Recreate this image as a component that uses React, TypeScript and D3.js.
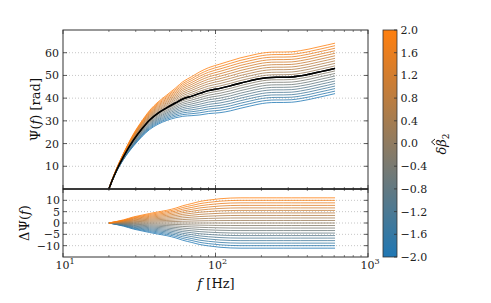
import React from "react";
import * as d3 from "d3";

// ---- data ----
const freqs = [20, 21, 22.5, 25, 29, 33, 37, 42, 48, 55, 61, 70, 79, 90, 107, 125, 145, 168, 190, 217, 250, 280, 316, 360, 410, 470, 540, 608];
const psiBase = [0, 3.8, 8.5, 14.5, 21.6, 26.6, 30.4, 33.4, 35.8, 38.0, 39.6, 40.9, 42.1, 43.3, 44.3, 45.4, 46.6, 47.6, 48.4, 49.0, 49.2, 49.2, 49.3, 49.8, 50.5, 51.4, 52.3, 53.1];
// phase shift for delta beta2 = +2 (curves scale with delta beta2)
const dPsiAtMax = [0, 0.3, 0.7, 1.4, 2.7, 3.5, 4.2, 4.9, 5.6, 6.6, 7.6, 8.6, 9.5, 10.1, 10.7, 11.0, 11.1, 11.1, 11.1, 11.1, 11.1, 11.1, 11.1, 11.1, 11.1, 11.1, 11.1, 11.1];
const betaValues = [-2.0, -1.8, -1.6, -1.4, -1.2, -1.0, -0.8, -0.6, -0.4, -0.2, 0.0, 0.2, 0.4, 0.6, 0.8, 1.0, 1.2, 1.4, 1.6, 1.8, 2.0];
const betaMax = 2.0;
const topYTicks = [10, 20, 30, 40, 50, 60];
const botYTicks = [-10, -5, 0, 5, 10];
const xMajor = [10, 100, 1000];
const xMajorExp = ["1", "2", "3"];
const cbarTicks = [-2.0, -1.6, -1.2, -0.8, -0.4, 0.0, 0.4, 0.8, 1.2, 1.6, 2.0];

const W = 491, H = 303;
const L = 63, R = 368;
const T1 = 30, B1 = 189, T2 = 189, B2 = 257;
const CX0 = 383, CX1 = 397, CY0 = 30, CY1 = 257;
const FONT = "DejaVu Serif";
const SPINE = "#333";
const GRID = "#b8b8b8";

export default function App() {
  const x = d3.scaleLog().domain([10, 1000]).range([L, R]);
  const yTop = d3.scaleLinear().domain([0, 70]).range([B1, T1]);
  const yBot = d3.scaleLinear().domain([-15, 15]).range([B2, T2]);
  const color = d3.scaleLinear<string>().domain([-2, 2]).range(["#1f77b4", "#ff7f0e"]).interpolate(d3.interpolateRgb);
  const cy = d3.scaleLinear().domain([-2, 2]).range([CY1, CY0]);

  const minor: number[] = [];
  [10, 100].forEach((dec) => { for (let k = 2; k <= 9; k++) minor.push(dec * k); });

  const topLine = d3.line<number>().x((_, i) => x(freqs[i])).y((v) => yTop(v)).curve(d3.curveMonotoneX);
  const botLine = d3.line<number>().x((_, i) => x(freqs[i])).y((v) => yBot(v)).curve(d3.curveMonotoneX);

  const curveTop = (b: number) => psiBase.map((p, i) => p + (b / betaMax) * dPsiAtMax[i]);
  const curveBot = (b: number) => dPsiAtMax.map((d) => (b / betaMax) * d);

  const gradStops = d3.range(0, 11).map((i) => i / 10);

  const xTicksFor = (top: number, bot: number) => (
    <g>
      {xMajor.map((t) => (
        <g key={"M" + t}>
          <line x1={x(t)} x2={x(t)} y1={bot} y2={bot - 4} stroke={SPINE} strokeWidth={0.8} />
          <line x1={x(t)} x2={x(t)} y1={top} y2={top + 4} stroke={SPINE} strokeWidth={0.8} />
        </g>
      ))}
      {minor.map((t) => (
        <g key={"m" + t}>
          <line x1={x(t)} x2={x(t)} y1={bot} y2={bot - 2} stroke={SPINE} strokeWidth={0.6} />
          <line x1={x(t)} x2={x(t)} y1={top} y2={top + 2} stroke={SPINE} strokeWidth={0.6} />
        </g>
      ))}
    </g>
  );

  return (
    <svg width={W} height={H} style={{ position: "absolute", left: 0, top: 0, background: "#fff" }} fontFamily={FONT}>
      <defs>
        <linearGradient id="cb" x1="0" y1="1" x2="0" y2="0">
          {gradStops.map((s) => (
            <stop key={s} offset={s} stopColor={color(-2 + 4 * s)} />
          ))}
        </linearGradient>
        <clipPath id="clipTop"><rect x={L} y={T1} width={R - L} height={B1 - T1} /></clipPath>
        <clipPath id="clipBot"><rect x={L} y={T2} width={R - L} height={B2 - T2} /></clipPath>
      </defs>

      {/* grids */}
      <g stroke={GRID} strokeWidth={0.8} strokeDasharray="1,2">
        {topYTicks.map((t) => <line key={"gt" + t} x1={L} x2={R} y1={yTop(t)} y2={yTop(t)} />)}
        {botYTicks.map((t) => <line key={"gb" + t} x1={L} x2={R} y1={yBot(t)} y2={yBot(t)} />)}
        <line x1={x(100)} x2={x(100)} y1={T1} y2={B1} />
        <line x1={x(100)} x2={x(100)} y1={T2} y2={B2} />
      </g>

      {/* curves top */}
      <g clipPath="url(#clipTop)" fill="none">
        {betaValues.map((b) => (
          <path key={"t" + b} d={topLine(curveTop(b)) || ""} stroke={b === 0 ? "#000" : color(b)} strokeWidth={b === 0 ? 1.5 : 0.8} />
        ))}
        <path d={topLine(curveTop(0)) || ""} stroke="#000" strokeWidth={1.5} />
      </g>
      {/* curves bottom */}
      <g clipPath="url(#clipBot)" fill="none">
        {betaValues.map((b) => (
          <path key={"b" + b} d={botLine(curveBot(b)) || ""} stroke={color(b)} strokeWidth={0.8} />
        ))}
      </g>

      {/* ticks */}
      {xTicksFor(T1, B1)}
      {xTicksFor(T2, B2)}
      {topYTicks.map((t) => (
        <g key={"yt" + t}>
          <line x1={L} x2={L + 4} y1={yTop(t)} y2={yTop(t)} stroke={SPINE} strokeWidth={0.8} />
          <line x1={R} x2={R - 4} y1={yTop(t)} y2={yTop(t)} stroke={SPINE} strokeWidth={0.8} />
          <text x={L - 4} y={yTop(t)} dy="0.36em" textAnchor="end" fontSize={11} fill="#222">{t}</text>
        </g>
      ))}
      {botYTicks.map((t) => (
        <g key={"yb" + t}>
          <line x1={L} x2={L + 4} y1={yBot(t)} y2={yBot(t)} stroke={SPINE} strokeWidth={0.8} />
          <line x1={R} x2={R - 4} y1={yBot(t)} y2={yBot(t)} stroke={SPINE} strokeWidth={0.8} />
          <text x={L - 3} y={yBot(t)} dy="0.36em" textAnchor="end" fontSize={11} fill="#222">{t < 0 ? "\u2212" + Math.abs(t) : t}</text>
        </g>
      ))}
      {xMajor.map((t, i) => (
        <text key={"xl" + t} x={x(t) + 2} y={269} textAnchor="middle" fontSize={11} fill="#222">
          10<tspan dy={-5} fontSize={8}>{xMajorExp[i]}</tspan>
        </text>
      ))}

      {/* spines */}
      <rect x={L} y={T1} width={R - L} height={B1 - T1} fill="none" stroke={SPINE} strokeWidth={1} />
      <rect x={L} y={T2} width={R - L} height={B2 - T2} fill="none" stroke={SPINE} strokeWidth={1} />
      <line x1={L} x2={R} y1={B1} y2={B1} stroke="#111" strokeWidth={1.2} />

      {/* axis labels */}
      <text transform={`translate(40,${(T1 + B1) / 2}) rotate(-90)`} textAnchor="middle" fontSize={13} fill="#111">
        Ψ(<tspan fontStyle="italic">f</tspan>) [rad]
      </text>
      <text transform={`translate(29,${(T2 + B2) / 2}) rotate(-90)`} textAnchor="middle" fontSize={13} fill="#111">
        ΔΨ(<tspan fontStyle="italic">f</tspan>)
      </text>
      <text x={216} y={288} textAnchor="middle" fontSize={13} fill="#111">
        <tspan fontStyle="italic">f</tspan> [Hz]
      </text>

      {/* colorbar */}
      <rect x={CX0} y={CY0} width={CX1 - CX0} height={CY1 - CY0} fill="url(#cb)" stroke={SPINE} strokeWidth={0.8} />
      {cbarTicks.map((t) => (
        <g key={"c" + t}>
          <line x1={CX1} x2={CX1 - 3} y1={cy(t)} y2={cy(t)} stroke={SPINE} strokeWidth={0.8} />
          <text x={CX1 + 3.5} y={cy(t)} dy="0.36em" fontSize={11} fill="#222">
            {(t < 0 ? "\u2212" : "") + Math.abs(t).toFixed(1)}
          </text>
        </g>
      ))}
      <g transform={`translate(446,${(CY0 + CY1) / 2}) rotate(-90)`}>
        <text x={-11} y={0} fontSize={13} fill="#111" fontStyle="italic">
          δβ<tspan dy={3} fontSize={9} fontStyle="normal">2</tspan>
        </text>
        <path d="M -1.5,-11 L 1.5,-14.5 L 4.5,-11" fill="none" stroke="#111" strokeWidth={0.9} />
      </g>
    </svg>
  );
}
